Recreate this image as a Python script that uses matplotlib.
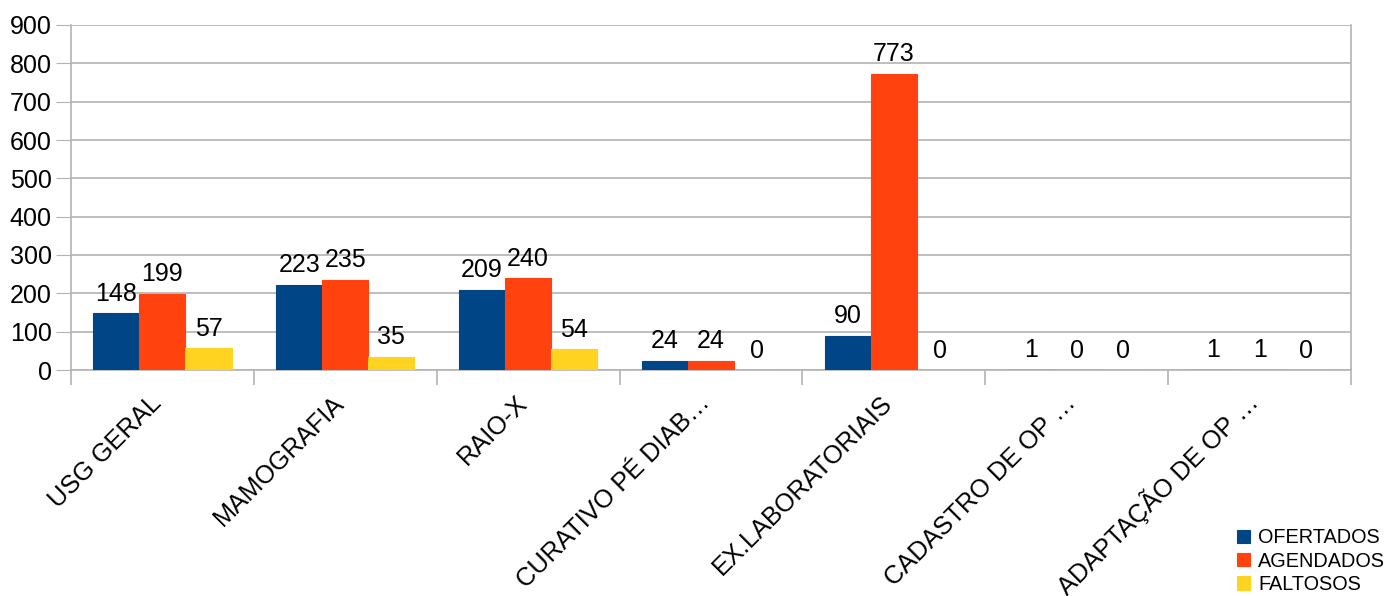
import numpy as np
import matplotlib.pyplot as plt

plt.rcParams['font.family'] = ['Liberation Sans', 'DejaVu Sans']

categorias = ['USG GERAL', 'MAMOGRAFIA', 'RAIO-X', 'CURATIVO PÉ DIAB…',
              'EX.LABORATORIAIS', 'CADASTRO DE OP …', 'ADAPTAÇÃO DE OP …']
ofertados = [148, 223, 209, 24, 90, 1, 1]
agendados = [199, 235, 240, 24, 773, 0, 1]
faltosos = [57, 35, 54, 0, 0, 0, 0]

series = [('OFERTADOS', ofertados, '#004586'),
          ('AGENDADOS', agendados, '#ff420e'),
          ('FALTOSOS', faltosos, '#ffd320')]

fig = plt.figure(figsize=(13.84, 5.96), dpi=100)
ax = fig.add_axes([71/1384, 1 - 370/596, (1351 - 71)/1384, (370 - 25)/596])

x = np.arange(len(categorias))
w = 0.252
for i, (nome, vals, cor) in enumerate(series):
    pos = x + (i - 1) * w
    bars = ax.bar(pos, vals, w, color=cor, edgecolor=cor, linewidth=0.8,
                  label=nome, zorder=3)
    for b, v in zip(bars, vals):
        ax.annotate(str(v), (b.get_x() + b.get_width() / 2, v),
                    xytext=(0, 9), textcoords='offset points',
                    ha='center', va='baseline', fontsize=18)

ax.set_xlim(-0.5, len(categorias) - 0.5)
ax.set_ylim(0, 900)
ax.set_yticks(range(0, 901, 100))
ax.tick_params(axis='y', labelsize=18, length=11, color='#b3b3b3', pad=3)
ax.yaxis.grid(True, color='#b3b3b3', linewidth=1.2, zorder=0)

ax.set_xticks(x)
ax.set_xticklabels(categorias, rotation=45, ha='right', va='baseline',
                   rotation_mode='anchor', fontsize=18.3)
ax.tick_params(axis='x', length=0, pad=24.5)
ax.set_xticks(np.arange(-0.5, len(categorias), 1), minor=True)
ax.tick_params(axis='x', which='minor', length=11, color='#b3b3b3', width=1.2)

for s in ax.spines.values():
    s.set_color('#b3b3b3')
    s.set_linewidth(1.2)
ax.spines['top'].set_visible(False)

fig.legend(loc='lower right', bbox_to_anchor=(1.0 + 11/1384, -8/596), frameon=False,
           fontsize=14.3, handlelength=0.65, handleheight=0.65, handletextpad=0.4,
           labelspacing=0.22, borderaxespad=0.1)

fig.savefig('out.png', dpi=100)
